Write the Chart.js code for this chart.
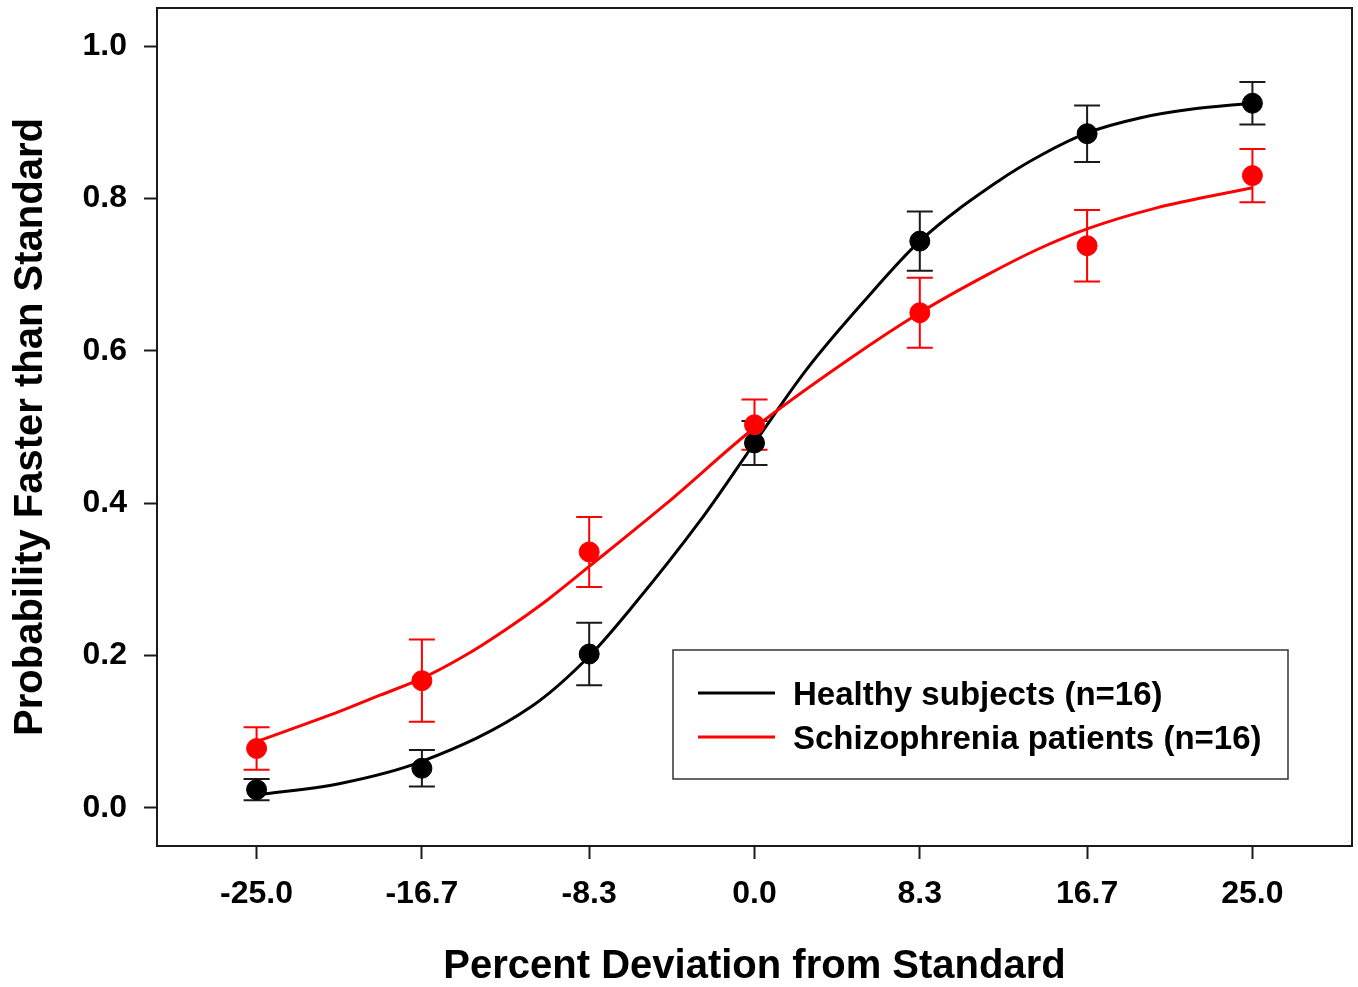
<!DOCTYPE html>
<html>
<head>
<meta charset="utf-8">
<title>Probability Faster than Standard</title>
<script src="https://cdn.jsdelivr.net/npm/chart.js@4.4.1/dist/chart.umd.min.js"></script>
<style>
  html, body { margin: 0; padding: 0; background: #fff; }
  #wrap { width: 1358px; height: 987px; }
</style>
</head>
<body>
<div id="wrap"><canvas id="psychChart" width="1358" height="987"></canvas></div>
<script>
'use strict';

// ── Data ──────────────────────────────────────────────────────
const deviations     = [-25, -16.7, -8.3, 0, 8.3, 16.7, 25];
const xTickLabels    = ['-25.0', '-16.7', '-8.3', '0.0', '8.3', '16.7', '25.0'];
const yTicks         = [0, 0.2, 0.4, 0.6, 0.8, 1.0];
const yTickLabels    = ['0.0', '0.2', '0.4', '0.6', '0.8', '1.0'];

const healthyMean    = [0.024, 0.052, 0.202, 0.479, 0.744, 0.885, 0.925];
const healthyErr     = [0.014, 0.024, 0.041, 0.029, 0.039, 0.037, 0.028];
const patientMean    = [0.078, 0.167, 0.336, 0.503, 0.650, 0.738, 0.830];
const patientErr     = [0.028, 0.054, 0.046, 0.033, 0.046, 0.047, 0.035];

// fitted curves
const healthyFitX    = [-25, -20.8, -16.7, -11.2, -8.3, -6.2, -2.7, 0, 2.6, 5.5, 8.3, 12.2, 14.4, 16.7, 19.4, 21.9, 25];
const healthyFitY    = [0.017, 0.032, 0.061, 0.133, 0.199, 0.262, 0.378, 0.479, 0.575, 0.665, 0.744, 0.822, 0.857, 0.886, 0.906, 0.917, 0.925];
const patientFitX    = [-25, -20.8, -18.8, -16.7, -14.6, -12.5, -10.4, -8.3, -4.4, 0, 4.8, 8.3, 11.7, 14.2, 16.7, 20.1, 25];
const patientFitY    = [0.087, 0.127, 0.148, 0.170, 0.199, 0.234, 0.273, 0.317, 0.400, 0.499, 0.590, 0.650, 0.700, 0.733, 0.760, 0.787, 0.814];

const seriesNames    = ['Healthy subjects (n=16)', 'Schizophrenia patients (n=16)'];

const FONT = "'Liberation Sans', Arial, sans-serif";
const RED  = '#ff0000';
const INK  = '#000000';

const toPts = (xs, ys) => xs.map((x, i) => ({ x, y: ys[i] }));

// drop the extra label padding Chart.js adds at the axis ends
const noEdgePad = s => { s.paddingTop = 0; s.paddingBottom = 0; s.paddingLeft = 0; s.paddingRight = 0; };

// ── Plugins ───────────────────────────────────────────────────
const errorBars = {
  id: 'errorBars',
  beforeDatasetsDraw(chart) {
    const { ctx, scales: { x, y } } = chart;
    const groups = [
      { mean: healthyMean, err: healthyErr, color: '#1a1a1a' },
      { mean: patientMean, err: patientErr, color: RED },
    ];
    ctx.save();
    ctx.lineWidth = 2;
    groups.forEach(g => {
      ctx.strokeStyle = g.color;
      deviations.forEach((d, i) => {
        const px = x.getPixelForValue(d);
        const top = y.getPixelForValue(g.mean[i] + g.err[i]);
        const bot = y.getPixelForValue(g.mean[i] - g.err[i]);
        ctx.beginPath();
        ctx.moveTo(px, top); ctx.lineTo(px, bot);
        ctx.moveTo(px - 13, top); ctx.lineTo(px + 13, top);
        ctx.moveTo(px - 13, bot); ctx.lineTo(px + 13, bot);
        ctx.stroke();
      });
    });
    ctx.restore();
  },
};

const frameAndLegend = {
  id: 'frameAndLegend',
  afterDraw(chart) {
    const { ctx, chartArea: a } = chart;
    ctx.save();
    // plot frame
    ctx.strokeStyle = '#1a1a1a';
    ctx.lineWidth = 2;
    ctx.strokeRect(a.left, a.top, a.right - a.left, a.bottom - a.top);

    // legend box
    ctx.strokeStyle = '#333';
    ctx.lineWidth = 1.5;
    ctx.strokeRect(673, 650, 615, 129);
    ctx.font = `bold 33px ${FONT}`;
    ctx.textBaseline = 'alphabetic';
    ctx.fillStyle = INK;
    [INK, RED].forEach((c, i) => {
      const cy = 693 + i * 44;
      ctx.strokeStyle = c;
      ctx.lineWidth = 3;
      ctx.beginPath();
      ctx.moveTo(698, cy); ctx.lineTo(775, cy);
      ctx.stroke();
      ctx.fillText(seriesNames[i], 793, cy + 12);
    });
    ctx.restore();
  },
};

// ── Chart ─────────────────────────────────────────────────────
const ctx = document.getElementById('psychChart').getContext('2d');

new Chart(ctx, {
  type: 'scatter',
  data: {
    datasets: [
      {
        label: 'Schizophrenia points',
        data: toPts(deviations, patientMean),
        showLine: false,
        pointRadius: 10,
        pointBackgroundColor: RED,
        pointBorderColor: RED,
        order: 0,
      },
      {
        label: 'Healthy points',
        data: toPts(deviations, healthyMean),
        showLine: false,
        pointRadius: 10,
        pointBackgroundColor: INK,
        pointBorderColor: INK,
        order: 1,
      },
      {
        label: seriesNames[1],
        data: toPts(patientFitX, patientFitY),
        showLine: true,
        borderColor: RED,
        borderWidth: 3,
        pointRadius: 0,
        cubicInterpolationMode: 'monotone',
        order: 2,
      },
      {
        label: seriesNames[0],
        data: toPts(healthyFitX, healthyFitY),
        showLine: true,
        borderColor: INK,
        borderWidth: 3,
        pointRadius: 0,
        cubicInterpolationMode: 'monotone',
        order: 3,
      },
    ],
  },
  options: {
    responsive: false,
    animation: false,
    layout: { autoPadding: false, padding: { top: 8, right: 6, left: 0, bottom: 0 } },
    plugins: {
      legend: { display: false },
      tooltip: { enabled: false },
    },
    scales: {
      x: {
        type: 'linear',
        min: -30,
        max: 30,
        afterBuildTicks: s => { s.ticks = deviations.map(v => ({ value: v })); },
        afterFit: s => { s.height = 141; noEdgePad(s); },
        grid: { drawOnChartArea: false, drawTicks: true, tickLength: 13, tickWidth: 2, color: '#1a1a1a' },
        border: { display: false },
        ticks: {
          color: INK,
          padding: 16,
          maxRotation: 0,
          font: { family: FONT, size: 32, weight: 'bold' },
          callback: (v, i) => xTickLabels[i],
        },
        title: {
          display: true,
          text: 'Percent Deviation from Standard',
          color: INK,
          padding: { top: 0, bottom: 0 },
          font: { family: FONT, size: 40, weight: 'bold', lineHeight: 1 },
        },
      },
      y: {
        min: -0.05,
        max: 1.05,
        afterBuildTicks: s => { s.ticks = yTicks.map(v => ({ value: v })); },
        afterFit: s => { s.width = 157; noEdgePad(s); },
        grid: { drawOnChartArea: false, drawTicks: true, tickLength: 13, tickWidth: 2, color: '#1a1a1a' },
        border: { display: false },
        ticks: {
          color: INK,
          padding: 17,
          font: { family: FONT, size: 32, weight: 'bold' },
          callback: (v, i) => yTickLabels[i],
        },
        title: {
          display: true,
          text: 'Probability Faster than Standard',
          color: INK,
          padding: { top: 11, bottom: 0 },
          font: { family: FONT, size: 40, weight: 'bold', lineHeight: 1 },
        },
      },
    },
  },
  plugins: [errorBars, frameAndLegend],
});
</script>
</body>
</html>
